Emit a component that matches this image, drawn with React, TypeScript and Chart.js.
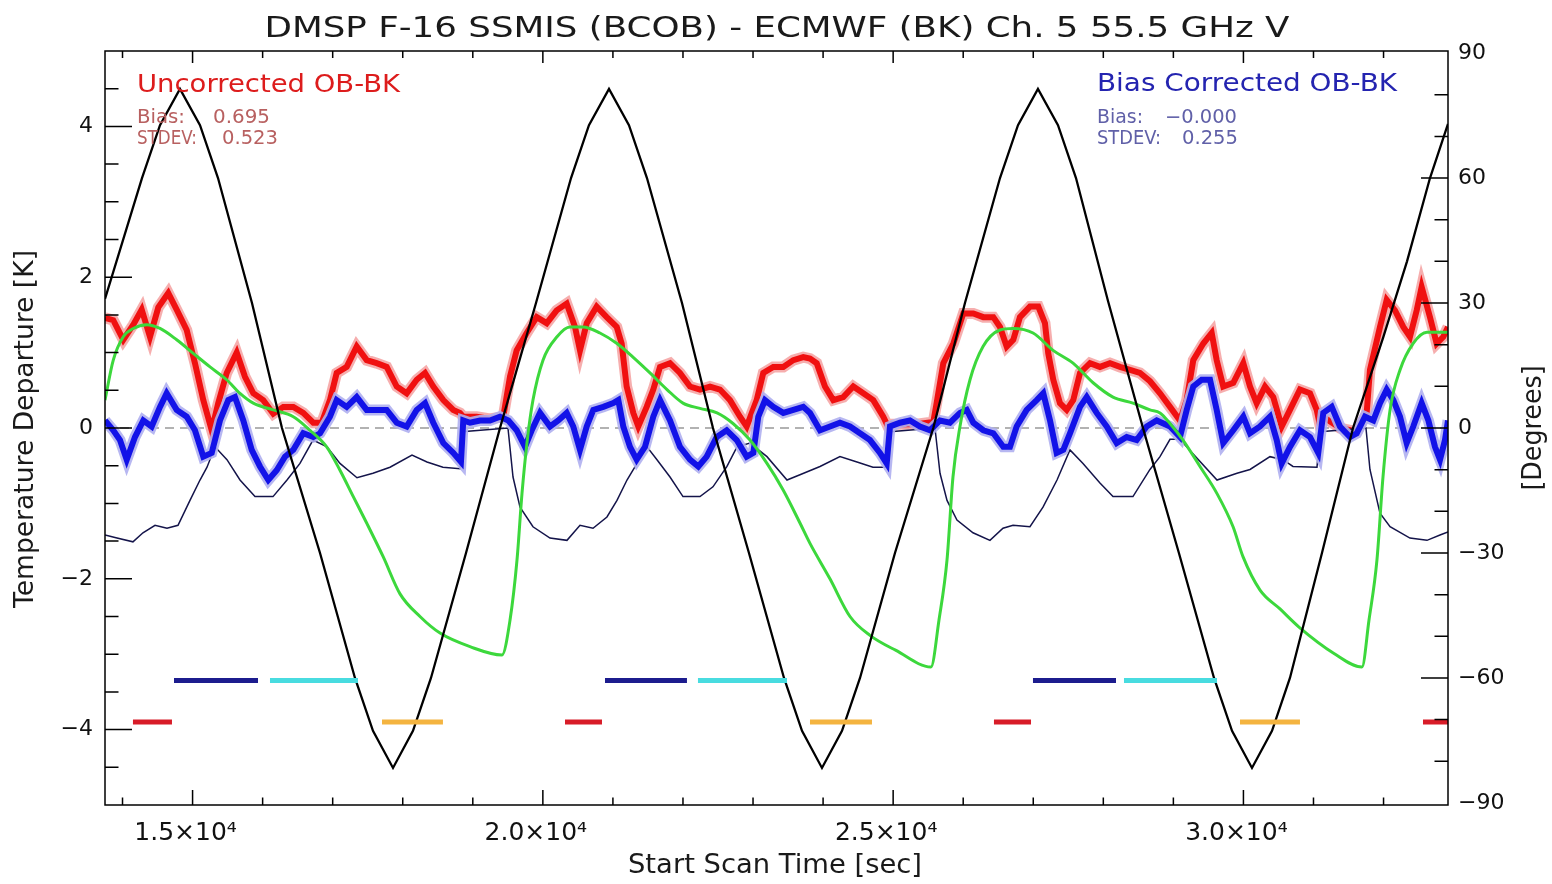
import React, { useEffect, useRef } from 'react';
import { Chart, registerables } from 'chart.js';

Chart.register(...registerables);

const FONT = '"DejaVu Sans", "Liberation Sans", sans-serif';

// ---------- axes ----------
const X_MIN = 13750;
const X_MAX = 32920;
const K_MIN = -5;
const K_MAX = 5;
const DEG_MIN = -90.5;
const DEG_MAX = 90.5;

const xTickValues = [15000, 20000, 25000, 30000];
const xTickLabels = ['1.5×10⁴', '2.0×10⁴', '2.5×10⁴', '3.0×10⁴'];
const kTickValues = [-4, -2, 0, 2, 4];
const kTickLabels = ['−4', '−2', '0', '2', '4'];
const degTickValues = [-90, -60, -30, 0, 30, 60, 90];
const degTickLabels = ['−90', '−60', '−30', '0', '30', '60', '90'];

// ---------- texts ----------
const TITLE = 'DMSP F-16 SSMIS (BCOB) - ECMWF (BK) Ch. 5 55.5 GHz V';
const X_TITLE = 'Start Scan Time [sec]';
const Y_TITLE = 'Temperature Departure [K]';
const Y2_TITLE = '[Degrees]';
const uncorrectedStats = ['Uncorrected OB-BK', '0.695', '0.523'];
const correctedStats = ['Bias Corrected OB-BK', '−0.000', '0.255'];

// ---------- uncorrected OB-BK (K) ----------
const redTime = [
  13750, 13868, 14011, 14154, 14274, 14392, 14511, 14653, 14773, 14916,
  15034, 15153, 15273, 15367, 15487, 15630, 15748, 15867, 16009, 16152,
  16295, 16438, 16580, 16723, 16843, 16961, 17057, 17200, 17343, 17485,
  17628, 17771, 17914, 18056, 18199, 18318, 18436, 18579, 18721, 18817,
  18864, 19055, 19245, 19435, 19531, 19626, 19769, 19912, 20055, 20197,
  20340, 20459, 20530, 20626, 20768, 20911, 21054, 21125, 21196, 21291,
  21362, 21482, 21576, 21672, 21815, 21957, 22100, 22243, 22386, 22528,
  22671, 22814, 22909, 23052, 23146, 23289, 23432, 23575, 23717, 23813,
  23909, 24027, 24146, 24288, 24431, 24574, 24716, 24859, 24926,
  24969, 25336, 25573, 25621, 25716, 25859, 26002, 26144, 26287, 26430,
  26525, 26621, 26715, 26810, 26953, 27072, 27167, 27214, 27286, 27381,
  27477, 27571, 27667, 27810, 27952, 28095, 28238, 28381, 28523, 28666,
  28809, 28952, 29094, 29190, 29284, 29427, 29547, 29618, 29712, 29855,
  29998, 30094, 30189, 30308, 30426, 30546, 30664, 30807, 30950, 31046, 31078,
  31136, 31378, 31621, 31759, 31806, 31949, 32045, 32163, 32282, 32377,
  32473, 32544, 32663, 32758, 32853, 32920,
];
const redValue = [
  1.46, 1.43, 1.17, 1.37, 1.57, 1.21, 1.6, 1.79, 1.57, 1.3,
  0.86, 0.37, -0.03, 0.33, 0.73, 1.0, 0.68, 0.46, 0.37, 0.19,
  0.28, 0.28, 0.2, 0.07, 0.07, 0.37, 0.73, 0.81, 1.08, 0.9,
  0.86, 0.81, 0.55, 0.46, 0.64, 0.73, 0.55, 0.37, 0.24, 0.2,
  0.15, 0.15, 0.12, 0.15, 0.68, 1.03, 1.26, 1.47, 1.39, 1.56,
  1.65, 1.34, 1.03, 1.39, 1.61, 1.47, 1.34, 1.12, 0.55, 0.2,
  0.02, 0.28, 0.51, 0.81, 0.86, 0.73, 0.55, 0.51, 0.55, 0.51,
  0.37, 0.15, 0.02, 0.37, 0.73, 0.81, 0.81, 0.9, 0.94, 0.92,
  0.86, 0.55, 0.37, 0.41, 0.55, 0.46, 0.37, 0.15, 0.02,
  0.05, 0.05, 0.08, 0.33, 0.86, 1.12, 1.52, 1.52, 1.47, 1.47,
  1.34, 1.08, 1.17, 1.47, 1.61, 1.61, 1.39, 0.99, 0.64, 0.33,
  0.24, 0.37, 0.73, 0.86, 0.81, 0.86, 0.81, 0.77, 0.73, 0.62,
  0.46, 0.28, 0.1, 0.37, 0.9, 1.12, 1.26, 0.9, 0.55, 0.6,
  0.86, 0.55, 0.33, 0.55, 0.41, 0.02, 0.24, 0.51, 0.46, 0.24, 0.1,
  0.15, 0.0, -0.05, 0.2, 0.77, 1.34, 1.7, 1.56, 1.34, 1.21,
  1.56, 1.87, 1.47, 1.12, 1.21, 1.34,
];

// ---------- bias corrected OB-BK (K) ----------
const blueTime = [
  13750, 13868, 13964, 14060, 14178, 14297, 14416, 14535, 14630, 14773,
  14916, 15034, 15153, 15273, 15391, 15510, 15605, 15724, 15844, 15962,
  16081, 16201, 16319, 16438, 16580, 16723, 16819, 16961, 17057, 17200,
  17343, 17485, 17628, 17771, 17914, 18056, 18199, 18318, 18436, 18579,
  18721, 18831,
  18864, 18960, 19103, 19245, 19388, 19507, 19626, 19745, 19841, 19959,
  20102, 20220, 20340, 20434, 20530, 20626, 20720, 20863, 21005, 21077,
  21148, 21244, 21339, 21458, 21576, 21672, 21815, 21957, 22100, 22219,
  22338, 22481, 22624, 22767, 22909, 23004, 23075, 23171, 23289, 23432,
  23575, 23717, 23813, 23956, 24098, 24241, 24384, 24527, 24669, 24812, 24908,
  24955, 25098, 25240, 25383, 25526, 25669, 25811, 25954, 26050, 26144,
  26287, 26430, 26572, 26668, 26763, 26906, 27049, 27143, 27239, 27334,
  27429, 27524, 27667, 27763, 27905, 28048, 28191, 28334, 28476, 28619,
  28762, 28952, 29094, 29190, 29284, 29404, 29523, 29618, 29712, 29855,
  29998, 30094, 30236, 30379, 30475, 30546, 30664, 30807, 30950, 31068,
  31140, 31260, 31378, 31521, 31617, 31735, 31854, 31949, 32045, 32140,
  32235, 32330, 32424, 32544, 32640, 32734, 32806, 32877, 32920,
];
const blueValue = [
  0.1, -0.03, -0.16, -0.42, -0.12, 0.1, 0.02, 0.28, 0.46, 0.24,
  0.15, -0.03, -0.38, -0.33, 0.1, 0.37, 0.41, 0.1, -0.29, -0.51,
  -0.69, -0.56, -0.38, -0.29, -0.07, -0.12, -0.07, 0.15, 0.37, 0.28,
  0.41, 0.24, 0.24, 0.24, 0.07, 0.02, 0.24, 0.33, 0.07, -0.2,
  -0.33, -0.45,
  0.1, 0.07, 0.1, 0.1, 0.15, 0.1, -0.03, -0.25, -0.03, 0.2,
  0.02, 0.1, 0.2, 0.02, -0.29, 0.02, 0.24, 0.28, 0.33, 0.37,
  0.02, -0.25, -0.42, -0.25, 0.15, 0.37, 0.1, -0.25, -0.42, -0.51,
  -0.38, -0.12, -0.03, -0.16, -0.38, -0.33, 0.15, 0.37, 0.28, 0.2,
  0.24, 0.28, 0.2, -0.03, 0.02, 0.07, 0.02, -0.07, -0.16, -0.33, -0.47,
  0.02, 0.07, 0.1, 0.02, -0.03, 0.1, 0.07, 0.2, 0.24, 0.07,
  -0.03, -0.07, -0.25, -0.25, 0.02, 0.24, 0.37, 0.46, 0.1, -0.33,
  -0.29, -0.07, 0.28, 0.41, 0.2, 0.02, -0.2, -0.12, -0.16, 0.02,
  0.1, 0.02, -0.12, 0.24, 0.55, 0.64, 0.64, 0.24, -0.2, -0.03,
  0.15, -0.07, 0.02, 0.15, -0.16, -0.47, -0.25, -0.03, -0.12, -0.33,
  0.2, 0.28, 0.02, -0.12, -0.07, 0.15, 0.1, 0.33, 0.51, 0.37,
  0.15, -0.2, 0.02, 0.33, 0.1, -0.25, -0.42, -0.16, 0.1,
];

// ---------- thin dark navy trace (K) ----------
const navyTime = [
  13750, 13921, 14149, 14292, 14464, 14635, 14792, 14963, 15106, 15206,
  15320, 15491, 15677, 15891, 16148, 16348, 16533, 16719, 16919, 17104,
  17347, 17575, 17818, 18132, 18346, 18574, 18817, 18846, 19502, 19574,
  19674, 19859, 20102, 20344, 20530, 20716, 20915, 21058, 21201, 21344,
  21486, 21629, 21815, 22000, 22243, 22428, 22628, 22771, 22957, 23199,
  23485, 23670, 23956, 24241, 24484, 24712, 24912, 24955, 25597, 25669,
  25769, 25911, 26140, 26382, 26568, 26711, 26953, 27139, 27339, 27524,
  27710, 27952, 28138, 28423, 28666, 28809, 28952, 29094, 29237, 29623,
  29908, 30094, 30379, 30565, 30707, 31050, 31093, 31749, 31806, 31949,
  32093, 32377, 32620, 32806, 32920,
];
const navyValue = [
  -1.42, -1.46, -1.51, -1.39, -1.29, -1.33, -1.29, -0.96, -0.69, -0.52,
  -0.25, -0.42, -0.69, -0.91, -0.91, -0.69, -0.47, -0.16, -0.25, -0.47,
  -0.66, -0.6, -0.52, -0.36, -0.45, -0.52, -0.54, -0.05, 0.0, -0.65,
  -1.05, -1.31, -1.46, -1.49, -1.29, -1.33, -1.18, -0.96, -0.69, -0.47,
  -0.25, -0.42, -0.65, -0.91, -0.91, -0.78, -0.51, -0.25, -0.2, -0.38,
  -0.69, -0.62, -0.51, -0.38, -0.45, -0.52, -0.52, -0.05, 0.0, -0.6,
  -0.96, -1.22, -1.39, -1.49, -1.33, -1.29, -1.31, -1.05, -0.69, -0.29,
  -0.47, -0.73, -0.91, -0.91, -0.55, -0.38, -0.15, -0.15, -0.3, -0.69,
  -0.6, -0.55, -0.38, -0.42, -0.51, -0.52, -0.05, 0.0, -0.55, -1.13,
  -1.31, -1.46, -1.49, -1.42, -1.38,
];

// ---------- green trace (K) ----------
const greenTime = [
  13750, 13868, 14011, 14154, 14345, 14535, 14773, 15010, 15249, 15487,
  15677, 15867, 16152, 16438, 16676, 16914, 17104, 17294, 17485, 17722,
  17961, 18246, 18532, 18960, 19417, 19531, 19631, 19702, 19773, 19859,
  20002, 20202, 20387, 20573, 20815, 21058, 21286, 21529, 21772, 22000,
  22243, 22486, 22714, 22957, 23199, 23428, 23670, 23813, 24098, 24384,
  24669, 25041, 25540, 25654, 25769, 25854, 25954, 26097, 26283, 26525,
  26711, 26997, 27283, 27568, 27854, 28138, 28423, 28666, 28809, 28952,
  29137, 29380, 29623, 29852, 29995, 30237, 30522, 30793, 31293, 31692,
  31792, 31906, 31992, 32093, 32235, 32421, 32620, 32920,
];
const greenValue = [
  0.37, 0.9, 1.21, 1.32, 1.37, 1.32, 1.17, 0.99, 0.81, 0.64,
  0.46, 0.33, 0.24, 0.15, -0.03, -0.25, -0.56, -0.91, -1.26, -1.71,
  -2.2, -2.5, -2.72, -2.9, -3.01, -2.55, -1.75, -0.87, -0.2, 0.37,
  0.9, 1.21, 1.34, 1.34, 1.26, 1.12, 0.94, 0.73, 0.51, 0.33,
  0.26, 0.2, 0.06, -0.16, -0.47, -0.82, -1.26, -1.53, -2.0, -2.5,
  -2.75, -2.95, -3.17, -2.55, -1.75, -0.65, 0.02, 0.64, 1.08, 1.3,
  1.32, 1.26, 1.03, 0.86, 0.6, 0.41, 0.33, 0.24, 0.2, 0.06,
  -0.16, -0.51, -0.87, -1.31, -1.71, -2.15, -2.4, -2.64, -2.99, -3.17,
  -2.55, -1.75, -0.65, 0.24, 0.77, 1.12, 1.27, 1.27,
];

// ---------- scan angle (degrees, right axis) ----------
const scanTime = [
  13750, 14278, 14535, 14820, 15106, 15363, 15848, 16276, 16819, 17318,
  17575, 17861, 18146, 18403, 18903, 19388, 19902, 20402, 20658, 20944,
  21229, 21486, 21986, 22428, 22942, 23442, 23699, 23984, 24270, 24527,
  25026, 25573, 26025, 26525, 26782, 27067, 27353, 27610, 28067, 28566,
  29079, 29580, 29837, 30122, 30408, 30664, 31121, 31564, 31992, 32335,
  32663, 32920,
];
const scanAngle = [
  31, 60, 72.7, 81.4, 72.7, 60, 30, 0, -30, -60,
  -72.7, -81.6, -72.7, -60, -30, 0, 30, 60, 72.7, 81.4,
  72.7, 60, 30, 0, -30, -60, -72.7, -81.6, -72.7, -60,
  -30, 0, 30, 60, 72.7, 81.4, 72.7, 60, 30.5, 0,
  -30, -60, -72.7, -81.6, -72.7, -60, -30, 0, 21.6, 40,
  60, 73,
];

// ---------- bottom interval bars ----------
const upperBarLevel = -3.35;
const lowerBarLevel = -3.9;
const navyBarStart = [14735, 20887, 26996];
const navyBarEnd = [15934, 22057, 28181];
const cyanBarStart = [16105, 22214, 28295];
const cyanBarEnd = [17361, 23485, 29623];
const redBarStart = [14149, 20316, 26439, 32563];
const redBarEnd = [14706, 20844, 26968, 33091];
const orangeBarStart = [17704, 23813, 29951];
const orangeBarEnd = [18574, 24698, 30807];

const pts = (xs: number[], ys: number[]) => xs.map((x, i) => ({ x, y: ys[i] }));

function fitText(
  ctx: CanvasRenderingContext2D, text: string, x: number, y: number, width: number,
  size: number, color: string, align: CanvasTextAlign = 'center', rotation = 0,
) {
  ctx.save();
  ctx.font = `${size}px ${FONT}`;
  ctx.fillStyle = color;
  ctx.textAlign = align;
  ctx.textBaseline = 'alphabetic';
  const w = ctx.measureText(text).width;
  ctx.translate(x, y);
  if (rotation) ctx.rotate(rotation);
  ctx.scale(width / w, 1);
  ctx.fillText(text, 0, 0);
  ctx.restore();
}

const decorPlugin = {
  id: 'decor',
  afterDraw(chart: any) {
    const { ctx, chartArea } = chart;
    const { left, right, top, bottom } = chartArea;
    const xs = chart.scales.x;
    const yk = chart.scales.y;
    const yd = chart.scales.y2;
    ctx.save();
    ctx.strokeStyle = '#000';
    ctx.lineWidth = 1.5;
    ctx.strokeRect(left, top, right - left, bottom - top);
    ctx.beginPath();
    for (let v = Math.ceil(X_MIN / 1000) * 1000; v <= X_MAX; v += 1000) {
      const px = xs.getPixelForValue(v);
      const major = v % 5000 === 0;
      ctx.moveTo(px, bottom);
      ctx.lineTo(px, bottom - (major ? 15 : 7.5));
      ctx.moveTo(px, top);
      ctx.lineTo(px, top + (major ? 12 : 7));
    }
    for (let v = -4.5; v <= 4.51; v += 0.5) {
      const py = yk.getPixelForValue(v);
      const major = Math.abs(v % 2) < 1e-9;
      ctx.moveTo(left, py);
      ctx.lineTo(left + (major ? 27 : 13.5), py);
    }
    for (let v = -80; v <= 80; v += 10) {
      const py = yd.getPixelForValue(v);
      const major = v % 30 === 0;
      ctx.moveTo(right, py);
      ctx.lineTo(right - (major ? 27 : 13.5), py);
    }
    ctx.stroke();
    ctx.restore();

    // title and axis titles
    fitText(ctx, TITLE, 777, 37, 1025, 29, '#1a1a1a');
    fitText(ctx, X_TITLE, 775, 873, 294, 26, '#1a1a1a');
    fitText(ctx, Y_TITLE, 33, 429, 358, 26, '#1a1a1a', 'center', -Math.PI / 2);
    fitText(ctx, Y2_TITLE, 1541, 428, 125, 27, '#1a1a1a', 'center', -Math.PI / 2);

    // annotation block: uncorrected
    fitText(ctx, uncorrectedStats[0], 137, 92, 263, 25, '#dd1c1c', 'left');
    fitText(ctx, 'Bias:', 137, 123, 48, 19, '#b86060', 'left');
    fitText(ctx, uncorrectedStats[1], 213, 123, 57, 19, '#b86060', 'left');
    fitText(ctx, 'STDEV:', 137, 144, 60, 19, '#b86060', 'left');
    fitText(ctx, uncorrectedStats[2], 222, 144, 56, 19, '#b86060', 'left');

    // annotation block: bias corrected
    fitText(ctx, correctedStats[0], 1097, 91, 300, 25, '#2424b0', 'left');
    fitText(ctx, 'Bias:', 1097, 123, 46, 19, '#6060a8', 'left');
    fitText(ctx, correctedStats[1], 1165, 123, 72, 19, '#6060a8', 'left');
    fitText(ctx, 'STDEV:', 1097, 144, 64, 19, '#6060a8', 'left');
    fitText(ctx, correctedStats[2], 1182, 144, 56, 19, '#6060a8', 'left');
  },
};

function barSets(starts: number[], ends: number[], level: number, color: string, order: number) {
  return starts.map((s, i) => ({
    type: 'line' as const,
    data: [{ x: s, y: level }, { x: ends[i], y: level }],
    borderColor: color,
    borderWidth: 5,
    borderCapStyle: 'butt' as const,
    pointRadius: 0,
    yAxisID: 'y',
    order,
  }));
}

export default function App() {
  const canvasRef = useRef<HTMLCanvasElement | null>(null);

  useEffect(() => {
    const canvas = canvasRef.current;
    if (!canvas) return;
    const line = (data: any[], color: string, width: number, order: number, yAxisID = 'y', extra: any = {}) => ({
      type: 'line' as const,
      data,
      borderColor: color,
      borderWidth: width,
      pointRadius: 0,
      tension: 0,
      yAxisID,
      order,
      ...extra,
    });

    const datasets: any[] = [
      ...barSets(navyBarStart, navyBarEnd, upperBarLevel, '#1c1c8e', 0),
      ...barSets(cyanBarStart, cyanBarEnd, upperBarLevel, '#48dce0', 0),
      ...barSets(redBarStart, redBarEnd, lowerBarLevel, '#d81c28', 0),
      ...barSets(orangeBarStart, orangeBarEnd, lowerBarLevel, '#f4b440', 0),
      line(pts(scanTime, scanAngle), '#000000', 2.3, 1, 'y2'),
      line(pts(greenTime, greenValue), '#3cd83c', 3, 2, 'y', { cubicInterpolationMode: 'monotone' }),
      line(pts(blueTime, blueValue), '#1212e8', 6, 3, 'y', { borderJoinStyle: 'miter' }),
      line(pts(blueTime, blueValue), 'rgba(175,175,240,0.9)', 11, 4),
      line(pts(navyTime, navyValue), '#14144a', 1.5, 5),
      line(pts(redTime, redValue), '#f01010', 6, 6, 'y', { borderJoinStyle: 'miter' }),
      line(pts(redTime, redValue), 'rgba(245,165,165,0.9)', 11, 7),
      line([{ x: X_MIN, y: 0 }, { x: X_MAX, y: 0 }], '#999999', 1.5, 8, 'y', { borderDash: [9, 6] }),
    ];

    const chart = new Chart(canvas, {
      type: 'line',
      data: { datasets },
      options: {
        responsive: false,
        animation: false,
        devicePixelRatio: 1,
        layout: { padding: { top: 51, left: 0, right: 0, bottom: 0 } },
        plugins: {
          legend: { display: false },
          tooltip: { enabled: false },
          title: { display: false },
        },
        scales: {
          x: {
            type: 'linear',
            position: 'bottom',
            min: X_MIN,
            max: X_MAX,
            grid: { display: false, drawTicks: false },
            border: { display: false },
            afterBuildTicks: (s: any) => { s.ticks = xTickValues.map((v) => ({ value: v })); },
            afterFit: (s: any) => { s.height = 79; },
            ticks: {
              callback: (v: any) => xTickLabels[xTickValues.indexOf(Number(v))],
              font: { family: FONT, size: 25 },
              color: '#111',
              padding: 13,
              labelOffset: -7,
              maxRotation: 0,
              autoSkip: false,
            },
          },
          y: {
            type: 'linear',
            position: 'left',
            min: K_MIN,
            max: K_MAX,
            grid: { display: false, drawTicks: false },
            border: { display: false },
            afterBuildTicks: (s: any) => { s.ticks = kTickValues.map((v) => ({ value: v })); },
            afterFit: (s: any) => { s.width = 105; },
            ticks: {
              callback: (v: any) => kTickLabels[kTickValues.indexOf(Number(v))],
              font: { family: FONT, size: 22 },
              color: '#111',
              padding: 12,
            },
          },
          y2: {
            type: 'linear',
            position: 'right',
            min: DEG_MIN,
            max: DEG_MAX,
            grid: { display: false, drawTicks: false },
            border: { display: false },
            afterBuildTicks: (s: any) => { s.ticks = degTickValues.map((v) => ({ value: v })); },
            afterFit: (s: any) => { s.width = 104; },
            ticks: {
              callback: (v: any) => degTickLabels[degTickValues.indexOf(Number(v))],
              font: { family: FONT, size: 22 },
              color: '#111',
              padding: 10,
            },
          },
        },
      },
      plugins: [decorPlugin],
    } as any);

    return () => chart.destroy();
  }, []);

  return (
    <div style={{ position: 'absolute', left: 0, top: 0, width: 1552, height: 884, background: '#fff' }}>
      <canvas ref={canvasRef} width={1552} height={884} style={{ display: 'block' }} />
    </div>
  );
}
